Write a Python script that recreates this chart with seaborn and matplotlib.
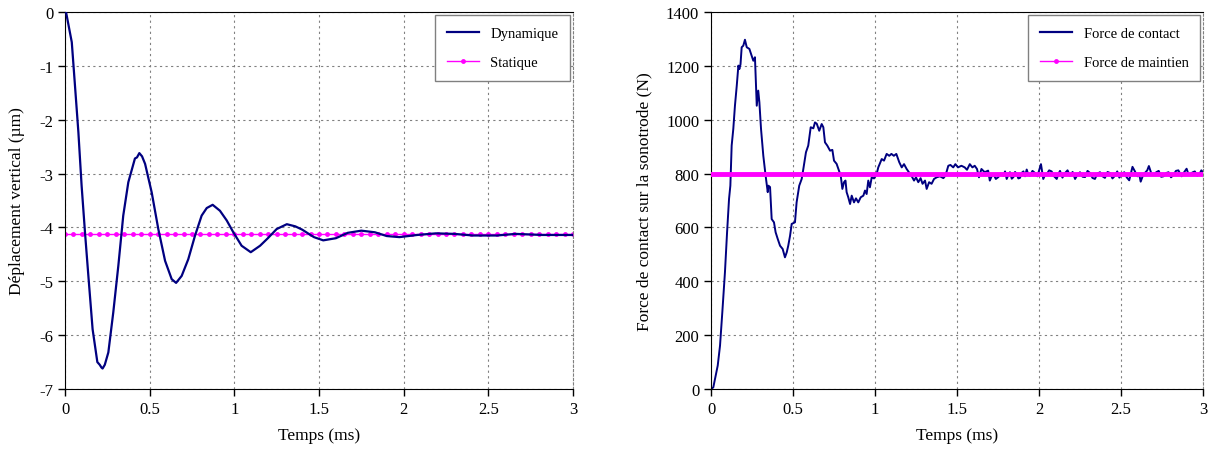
import numpy as np
import pandas as pd
import seaborn as sns
import matplotlib
matplotlib.use('Agg')
from matplotlib import pyplot as plt
from matplotlib.lines import Line2D

# values
dyn_t = [0.0, 0.006, 0.04, 0.059, 0.079, 0.098, 0.118, 0.138, 0.163, 0.191, 0.205, 0.215, 0.222,
         0.235, 0.256, 0.285, 0.315, 0.344, 0.374, 0.413, 0.425, 0.439, 0.455, 0.473, 0.512,
         0.551, 0.591, 0.63, 0.656, 0.689, 0.728, 0.768, 0.807, 0.837, 0.872, 0.915, 0.955,
         0.994, 1.043, 1.097, 1.152, 1.198, 1.25, 1.31, 1.36, 1.4, 1.47, 1.525, 1.6, 1.67,
         1.75, 1.83, 1.9, 1.975, 2.08, 2.19, 2.3, 2.41, 2.55, 2.66, 2.82, 3.0]
dyn_d = [0.0, 0.0, -0.56, -1.37, -2.23, -3.22, -4.09, -4.9, -5.89, -6.5, -6.55, -6.6, -6.62,
         -6.55, -6.32, -5.58, -4.71, -3.78, -3.16, -2.72, -2.7, -2.62, -2.68, -2.82, -3.35,
         -4.03, -4.62, -4.96, -5.03, -4.9, -4.59, -4.15, -3.78, -3.64, -3.58, -3.69, -3.87,
         -4.09, -4.34, -4.46, -4.34, -4.2, -4.03, -3.94, -3.98, -4.04, -4.18, -4.24, -4.2, -4.1,
         -4.06, -4.09, -4.16, -4.18, -4.14, -4.11, -4.12, -4.15, -4.15, -4.12, -4.14, -4.14]

statique = -4.12
maintien = 800

force_t = [0.0, 0.014, 0.041, 0.055, 0.069, 0.085, 0.098, 0.11, 0.118, 0.126, 0.136, 0.146,
           0.157, 0.167, 0.173, 0.18, 0.187, 0.197, 0.207, 0.218, 0.234, 0.248, 0.258, 0.268,
           0.274, 0.279, 0.288, 0.295, 0.305, 0.319, 0.333, 0.346, 0.35, 0.36, 0.37, 0.384,
           0.394, 0.407, 0.421, 0.437, 0.451, 0.462, 0.471, 0.482, 0.492, 0.512, 0.522, 0.538,
           0.553, 0.563, 0.579, 0.593, 0.608, 0.624, 0.634, 0.645, 0.66, 0.675, 0.685, 0.695,
           0.709, 0.726, 0.74, 0.75, 0.766, 0.78, 0.791, 0.801, 0.811, 0.82, 0.827, 0.837,
           0.848, 0.858, 0.872, 0.884, 0.898, 0.913, 0.929, 0.939, 0.949, 0.959, 0.969, 0.98,
           0.994, 1.01, 1.02, 1.041, 1.055, 1.071, 1.087, 1.1, 1.115, 1.13, 1.148, 1.163,
           1.177, 1.193, 1.21, 1.224, 1.238, 1.25, 1.264, 1.278, 1.29, 1.305, 1.315, 1.33,
           1.345, 1.36, 1.376, 1.396, 1.417, 1.43, 1.447, 1.46, 1.477, 1.49, 1.506, 1.527,
           1.547, 1.561, 1.578, 1.594, 1.608, 1.622, 1.634, 1.649, 1.669, 1.69, 1.70, 1.711,
           1.722, 1.737, 1.752, 1.767, 1.783, 1.793, 1.803, 1.813, 1.823, 1.834, 1.844, 1.854,
           1.864, 1.874, 1.884, 1.895, 1.905, 1.915, 1.925, 1.935, 1.945, 1.96, 1.976, 1.99,
           2.006, 2.012, 2.026, 2.037, 2.047, 2.062, 2.077, 2.092, 2.108, 2.118, 2.128, 2.143,
           2.159, 2.174, 2.189, 2.205, 2.22, 2.235, 2.25, 2.266, 2.281, 2.296, 2.311, 2.326,
           2.341, 2.356, 2.372, 2.387, 2.402, 2.418, 2.433, 2.448, 2.463, 2.477, 2.49, 2.505,
           2.52, 2.535, 2.55, 2.56, 2.57, 2.585, 2.6, 2.61, 2.62, 2.635, 2.65, 2.66, 2.67,
           2.685, 2.7, 2.715, 2.73, 2.745, 2.76, 2.775, 2.79, 2.805, 2.82, 2.835, 2.85, 2.86,
           2.87, 2.885, 2.9, 2.91, 2.92, 2.935, 2.95, 2.965, 2.98, 2.99, 3.0]
force_n = [0, 6, 87, 161, 285, 433, 582, 706, 755, 904, 966, 1052,
           1126, 1201, 1188, 1206, 1269, 1275, 1297, 1269, 1263, 1238, 1219, 1232,
           1139, 1052, 1108, 1065, 966, 866, 792, 731, 755, 750, 631, 619,
           582, 557, 532, 520, 489, 508, 532, 569, 613, 619, 693, 755,
           780, 817, 879, 904, 972, 968, 990, 985, 959, 984, 972, 916,
           904, 885, 888, 848, 836, 811, 792, 743, 768, 774, 731, 712,
           687, 718, 693, 708, 693, 712, 718, 737, 724, 774, 749, 786,
           782, 799, 823, 854, 848, 873, 866, 873, 866, 873, 842, 823,
           835, 817, 802, 790, 774, 786, 768, 783, 762, 774, 743, 768,
           762, 780, 786, 790, 783, 793, 829, 832, 823, 835, 823, 829,
           823, 814, 835, 823, 829, 817, 786, 817, 805, 811, 774, 790,
           798, 780, 787, 800, 792, 808, 780, 795, 805, 781, 787, 806,
           798, 782, 784, 803, 808, 790, 815, 796, 792, 810, 802, 790,
           823, 835, 780, 795, 798, 812, 808, 790, 780, 798, 810, 785,
           802, 812, 792, 806, 780, 796, 805, 788, 787, 810, 802, 784,
           780, 800, 805, 790, 784, 806, 802, 782, 792, 808, 785, 798,
           805, 786, 775, 800, 825, 808, 790, 800, 770, 795, 805, 812, 828,
           800, 795, 805, 810, 788, 790, 802, 805, 786, 795, 810, 812, 800,
           790, 805, 818, 800, 795, 804, 808, 792, 800, 812, 805]

plt.rcParams['font.family'] = ['Liberation Serif', 'DejaVu Serif']
plt.rcParams['axes.unicode_minus'] = False
plt.rcParams['font.size'] = 12

navy = '#000080'
magenta = '#FF00FF'
grid_kw = dict(color='#808080', linestyle=(0, (2, 3)), linewidth=0.8)

dyn_df = pd.DataFrame({'t': dyn_t, 'd': dyn_d})
stat_t = np.round(np.arange(0, 3.001, 0.05), 2)
stat_df = pd.DataFrame({'t': stat_t, 'd': [statique] * len(stat_t)})
force_df = pd.DataFrame({'t': force_t, 'n': force_n})
maint_t = np.round(np.arange(0, 3.001, 0.01), 2)
maint_df = pd.DataFrame({'t': maint_t, 'n': [maintien] * len(maint_t)})

fig = plt.figure(figsize=(12.16, 4.52), dpi=100)
ax1 = fig.add_axes([65 / 1216, 1 - 390 / 452, 508 / 1216, 377 / 452])
ax2 = fig.add_axes([711 / 1216, 1 - 390 / 452, 492 / 1216, 377 / 452])

# left: displacement
sns.lineplot(data=stat_df, x='t', y='d', ax=ax1, color=magenta, lw=1.0, marker='o',
             markersize=3.5, markeredgewidth=0, estimator=None, zorder=2)
sns.lineplot(data=dyn_df, x='t', y='d', ax=ax1, color=navy, lw=1.6, estimator=None, zorder=3)
ax1.set_xlim(0, 3)
ax1.set_ylim(-7, 0)
ax1.set_xticks([0, 0.5, 1, 1.5, 2, 2.5, 3])
ax1.set_xticklabels(['0', '0.5', '1', '1.5', '2', '2.5', '3'])
ax1.set_yticks(range(-7, 1))
ax1.set_xlabel('Temps (ms)', labelpad=7, fontsize=12.5)
ax1.set_ylabel('Déplacement vertical (µm)', labelpad=10, fontsize=12.5)
h1 = [Line2D([], [], color=navy, lw=1.6),
      Line2D([], [], color=magenta, lw=1.0, marker='o', markersize=3.5, markeredgewidth=0)]
ax1.legend(h1, ['Dynamique', 'Statique'], loc='upper right', fontsize=10.5,
           labelspacing=1.1, handlelength=2.2, borderpad=0.8, borderaxespad=0.2,
           fancybox=False, framealpha=1, edgecolor='#808080')

# right: contact force
sns.lineplot(data=force_df, x='t', y='n', ax=ax2, color=navy, lw=1.4, estimator=None, zorder=2)
sns.lineplot(data=maint_df, x='t', y='n', ax=ax2, color=magenta, lw=3.5, estimator=None, zorder=3)
ax2.set_xlim(0, 3)
ax2.set_ylim(0, 1400)
ax2.set_xticks([0, 0.5, 1, 1.5, 2, 2.5, 3])
ax2.set_xticklabels(['0', '0.5', '1', '1.5', '2', '2.5', '3'])
ax2.set_yticks(range(0, 1401, 200))
ax2.set_xlabel('Temps (ms)', labelpad=7, fontsize=12.5)
ax2.set_ylabel('Force de contact sur la sonotrode (N)', labelpad=10, fontsize=12.5)
h2 = [Line2D([], [], color=navy, lw=1.6),
      Line2D([], [], color=magenta, lw=1.0, marker='o', markersize=3.5, markeredgewidth=0)]
ax2.legend(h2, ['Force de contact', 'Force de maintien'], loc='upper right', fontsize=10.5,
           labelspacing=1.1, handlelength=2.2, borderpad=0.8, borderaxespad=0.2,
           fancybox=False, framealpha=1, edgecolor='#808080')

for ax in (ax1, ax2):
    ax.grid(True, **grid_kw)
    ax.set_axisbelow(True)
    ax.tick_params(direction='out', length=5, width=1, color='black', labelsize=12)
    ax.spines['left'].set_color('black')
    ax.spines['bottom'].set_color('black')
    ax.spines['top'].set_color('black')
    ax.spines['right'].set_color('#808080')
    ax.spines['right'].set_linestyle((0, (2, 2)))
    ax.legend_.get_frame().set_linewidth(1.0)

fig.savefig('out.png', dpi=100)
